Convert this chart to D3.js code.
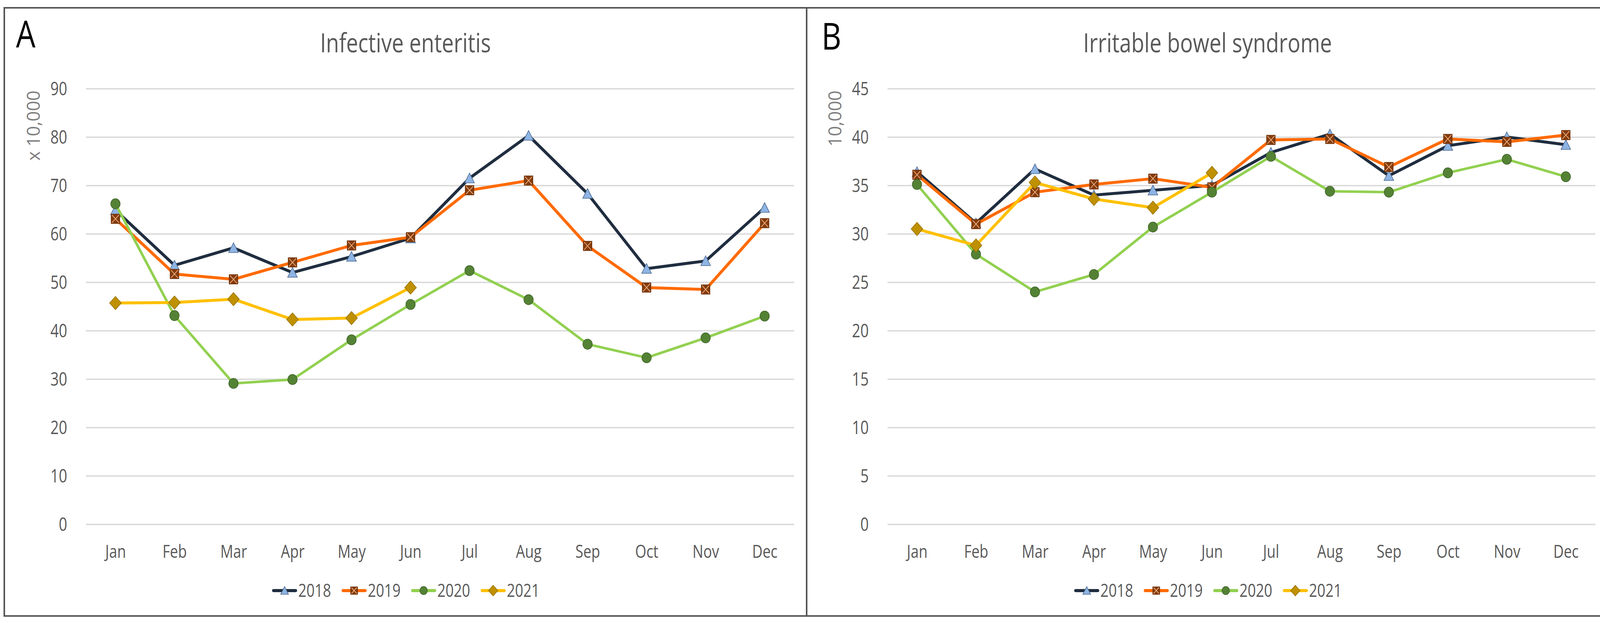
<!DOCTYPE html>
<html>
<head>
<meta charset="utf-8">
<script src="https://cdn.jsdelivr.net/npm/d3@7"></script>
<style>
    html, body { margin: 0; padding: 0; background: #ffffff; }
    svg { display: block; font-family: "Open Sans", "Noto Sans", sans-serif; }
</style>
</head>
<body>
<div id="chart"></div>
<script>
'use strict';

// months on the x axis
var months = ['Jan', 'Feb', 'Mar', 'Apr', 'May', 'Jun', 'Jul', 'Aug', 'Sep', 'Oct', 'Nov', 'Dec'];
var years = ['2018', '2019', '2020', '2021'];

// A: Infective enteritis (x 10,000)
var ie2018 = [64.9, 53.5, 57.1, 52.0, 55.3, 59.1, 71.5, 80.3, 68.3, 52.8, 54.4, 65.4];
var ie2019 = [63.1, 51.7, 50.6, 54.1, 57.6, 59.3, 69.0, 71.0, 57.5, 48.9, 48.5, 62.2];
var ie2020 = [66.2, 43.1, 29.1, 29.9, 38.1, 45.4, 52.4, 46.4, 37.2, 34.4, 38.5, 43.0];
var ie2021 = [45.7, 45.8, 46.5, 42.3, 42.6, 48.9];

// B: Irritable bowel syndrome (10,000)
var ibs2018 = [36.4, 31.1, 36.7, 34.0, 34.5, 35.0, 38.4, 40.3, 36.0, 39.1, 40.0, 39.2];
var ibs2019 = [36.1, 31.0, 34.3, 35.1, 35.7, 34.8, 39.7, 39.8, 36.9, 39.8, 39.5, 40.2];
var ibs2020 = [35.1, 27.9, 24.0, 25.8, 30.7, 34.3, 38.0, 34.4, 34.3, 36.3, 37.7, 35.9];
var ibs2021 = [30.5, 28.8, 35.3, 33.6, 32.7, 36.3];

var ticksA = [0, 10, 20, 30, 40, 50, 60, 70, 80, 90];
var ticksB = [0, 5, 10, 15, 20, 25, 30, 35, 40, 45];

var W = 4137, H = 1596;
var SX = 0.8;            // text in the picture is a bit condensed
var textGray = '#595959';

var styles = {
    '2018': { line: '#1f2d3f', width: 7.5, marker: 'triangle', fill: '#8eb4e3', stroke: '#4a6890' },
    '2019': { line: '#ff6a00', width: 7.5, marker: 'square', fill: '#843c0c', stroke: '#6b2f0a' },
    '2020': { line: '#92d050', width: 6.5, marker: 'circle', fill: '#548235', stroke: '#3d6127' },
    '2021': { line: '#ffc000', width: 7.5, marker: 'diamond', fill: '#bf9000', stroke: '#987200' }
};

var panels = [
    { letter: 'A', title: 'Infective enteritis', yTitle: 'x 10,000', ticks: ticksA, max: 90,
      series: [ie2018, ie2019, ie2020, ie2021],
      left: 11, right: 2065, plotL: 220, plotR: 2033, letterX: 41, letterY: 122 },
    { letter: 'B', title: 'Irritable bowel syndrome', yTitle: '10,000', ticks: ticksB, max: 45,
      series: [ibs2018, ibs2019, ibs2020, ibs2021],
      left: 2065, right: 4118, plotL: 2272, plotR: 4084, letterX: 2103, letterY: 127 }
];

var frameTop = 20, frameBottom = 1578;
var plotTop = 227, plotBottom = 1343;

var svg = d3.select('#chart').append('svg')
    .attr('width', W)
    .attr('height', H);

svg.append('rect')
    .attr('width', W)
    .attr('height', H)
    .attr('fill', '#ffffff');

var label = function (g, x, y, str, size, color, anchor) {
    return g.append('text')
        .attr('transform', 'translate(' + x + ',' + y + ') scale(' + SX + ',1)')
        .attr('text-anchor', anchor || 'start')
        .style('font-size', size + 'px')
        .style('fill', color)
        .text(str);
};

// marker shapes, centred on 0,0
var drawMarker = function (g, kind, st, s) {
    if (kind === 'triangle') {
        g.append('path')
            .attr('d', 'M0,' + (-13 * s) + 'L' + (12.5 * s) + ',' + (12 * s) + 'L' + (-12.5 * s) + ',' + (12 * s) + 'Z')
            .attr('fill', st.fill).attr('stroke', st.stroke).attr('stroke-width', 1.5);
    } else if (kind === 'square') {
        var hw = 11 * s, hh = 12 * s;
        g.append('rect')
            .attr('x', -hw).attr('y', -hh).attr('width', 2 * hw).attr('height', 2 * hh)
            .attr('fill', st.fill).attr('stroke', st.stroke).attr('stroke-width', 1.5);
        g.append('path')
            .attr('d', 'M' + (-hw + 2) + ',' + (-hh + 2) + 'L' + (hw - 2) + ',' + (hh - 2) +
                       'M' + (hw - 2) + ',' + (-hh + 2) + 'L' + (-hw + 2) + ',' + (hh - 2))
            .attr('stroke', '#f4b183').attr('stroke-width', 1.8).attr('fill', 'none');
    } else if (kind === 'circle') {
        g.append('ellipse')
            .attr('rx', 12 * s).attr('ry', 13 * s)
            .attr('fill', st.fill).attr('stroke', st.stroke).attr('stroke-width', 1.5);
    } else {
        g.append('path')
            .attr('d', 'M0,' + (-17 * s) + 'L' + (15 * s) + ',0L0,' + (17 * s) + 'L' + (-15 * s) + ',0Z')
            .attr('fill', st.fill).attr('stroke', st.stroke).attr('stroke-width', 1.5);
    }
};

panels.forEach(function (p) {
    var g = svg.append('g');
    var cx = (p.left + p.right) / 2;

    var x = d3.scalePoint()
        .domain(months)
        .range([p.plotL, p.plotR])
        .padding(0.5);

    var y = d3.scaleLinear()
        .domain([0, p.max])
        .range([plotBottom, plotTop]);

    // y gridlines + tick labels
    g.append('g')
        .attr('transform', 'translate(' + p.plotL + ',0)')
        .call(d3.axisLeft(y).tickValues(p.ticks).tickSize(-(p.plotR - p.plotL)).tickPadding(0))
        .call(function (a) { a.select('.domain').remove(); })
        .call(function (a) {
            a.selectAll('.tick line').attr('stroke', '#d9d9d9').attr('stroke-width', 3.5);
        })
        .call(function (a) {
            a.selectAll('.tick text')
                .attr('x', null)
                .attr('dy', '0.36em')
                .attr('transform', 'translate(-48,0) scale(' + SX + ',1)')
                .style('font-size', '47px')
                .style('font-family', '"Open Sans", sans-serif')
                .style('fill', textGray);
        });

    // month labels
    g.append('g')
        .attr('transform', 'translate(0,' + plotBottom + ')')
        .call(d3.axisBottom(x).tickSize(0))
        .call(function (a) { a.select('.domain').remove(); })
        .call(function (a) {
            a.selectAll('.tick text')
                .attr('y', 86)
                .attr('dy', 0)
                .attr('transform', 'scale(' + SX + ',1)')
                .style('font-size', '46px')
                .style('font-family', '"Open Sans", sans-serif')
                .style('fill', textGray);
        });

    // series
    p.series.forEach(function (vals, i) {
        var st = styles[years[i]];
        var line = d3.line()
            .x(function (d, j) { return x(months[j]); })
            .y(function (d) { return y(d); });

        g.append('path')
            .datum(vals)
            .attr('d', line)
            .attr('fill', 'none')
            .attr('stroke', st.line)
            .attr('stroke-width', st.width)
            .attr('stroke-linejoin', 'round')
            .attr('stroke-linecap', 'round');

        vals.forEach(function (v, j) {
            var m = g.append('g')
                .attr('transform', 'translate(' + x(months[j]) + ',' + y(v) + ')');
            drawMarker(m, st.marker, st, 1);
        });
    });

    // title, panel letter, y title
    label(g, cx, 134, p.title, 68, textGray, 'middle');

    g.append('text')
        .attr('transform', 'translate(' + p.letterX + ',' + p.letterY + ') scale(0.82,1)')
        .style('font-size', '96px')
        .style('fill', '#000000')
        .text(p.letter);

    g.append('text')
        .attr('transform', 'translate(' + (p.plotL - 118) + ',232) rotate(-90)')
        .attr('text-anchor', 'end')
        .style('font-size', '46px')
        .style('fill', '#7f7f7f')
        .text(p.yTitle);

    // legend, centred on the panel
    var pitch = 178, lineLen = 64;
    var legendW = (years.length - 1) * pitch + lineLen + 3 + 82;
    var lx = cx - legendW / 2;
    var ly = 1513;

    years.forEach(function (yr, i) {
        var st = styles[yr];
        var item = g.append('g').attr('transform', 'translate(' + (lx + i * pitch) + ',' + ly + ')');
        item.append('line')
            .attr('x1', 4).attr('x2', lineLen - 4)
            .attr('stroke', st.line)
            .attr('stroke-width', 8)
            .attr('stroke-linecap', 'round');
        var m = item.append('g').attr('transform', 'translate(' + (lineLen / 2) + ',0)');
        drawMarker(m, st.marker, st, 0.8);
        label(item, lineLen + 3, 16, yr, 46, textGray, 'start');
    });

    // frame
    svg.append('rect')
        .attr('x', p.left)
        .attr('y', frameTop)
        .attr('width', p.right - p.left)
        .attr('height', frameBottom - frameTop)
        .attr('fill', 'none')
        .attr('stroke', '#555555')
        .attr('stroke-width', 4);
});
</script>
</body>
</html>
